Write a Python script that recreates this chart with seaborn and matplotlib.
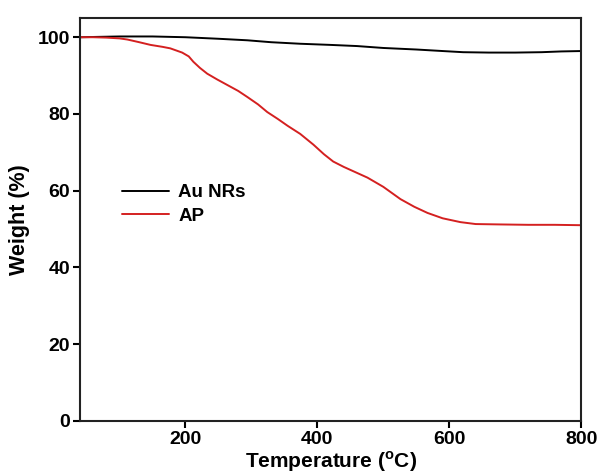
import pandas as pd
import seaborn as sns
import matplotlib.pyplot as plt

# TGA curves
au_temp = [40, 100, 150, 200, 250, 294, 330, 374, 420, 460, 500, 550, 590, 621, 660, 700, 740, 770, 800]
au_weight = [100.0, 100.2, 100.2, 100.0, 99.6, 99.2, 98.7, 98.3, 98.0, 97.7, 97.2, 96.8, 96.4, 96.1, 96.0, 96.0, 96.1, 96.3, 96.4]

ap_temp = [40, 60, 80, 100, 112, 130, 147, 165, 177, 195, 205, 212, 222, 233, 248, 264, 280, 294,
           310, 324, 340, 355, 374, 394, 410, 424, 440, 458, 476, 500, 526, 547, 567, 590, 617,
           640, 677, 720, 760, 800]
ap_weight = [100.0, 100.0, 99.9, 99.7, 99.4, 98.7, 98.0, 97.5, 97.1, 96.0, 95.0, 93.6, 92.0, 90.5,
             89.0, 87.5, 86.0, 84.4, 82.5, 80.5, 78.7, 76.9, 74.8, 72.0, 69.5, 67.6, 66.2, 64.8,
             63.4, 61.0, 57.8, 55.8, 54.2, 52.8, 51.8, 51.3, 51.2, 51.1, 51.1, 51.0]

df = pd.concat([
    pd.DataFrame({'Temperature': au_temp, 'Weight': au_weight, 'Sample': 'Au NRs'}),
    pd.DataFrame({'Temperature': ap_temp, 'Weight': ap_weight, 'Sample': 'AP'}),
])

sns.set_style('ticks')
plt.rcParams['font.family'] = ['Liberation Sans', 'DejaVu Sans']
plt.rcParams['font.weight'] = 'bold'
plt.rcParams['mathtext.fontset'] = 'custom'
plt.rcParams['mathtext.rm'] = 'Liberation Sans:bold'
for k in ['text.color', 'axes.labelcolor', 'xtick.color', 'ytick.color']:
    plt.rcParams[k] = 'black'

fig = plt.figure(figsize=(6.01, 4.75), dpi=100)
ax = fig.add_axes([0.133, 0.114, 0.834, 0.848])

sns.lineplot(data=df, x='Temperature', y='Weight', hue='Sample',
             palette={'Au NRs': 'black', 'AP': '#d42020'}, linewidth=1.4, ax=ax, sort=False)

ax.set_xlim(40, 800)
ax.set_ylim(0, 105)
ax.set_xticks([200, 400, 600, 800])
ax.set_yticks([0, 20, 40, 60, 80, 100])
ax.tick_params(axis='both', labelsize=14, width=1.5, length=5, direction='out', pad=2)
for lab in ax.get_xticklabels() + ax.get_yticklabels():
    lab.set_fontweight('bold')
for s in ax.spines.values():
    s.set_linewidth(1.5)
    s.set_color('#222222')

ax.set_xlabel('Temperature ($^{\\mathregular{o}}$C)', fontsize=15, fontweight='bold', labelpad=1)
ax.set_ylabel('Weight (%)', fontsize=15.5, fontweight='bold', labelpad=6)

leg = ax.legend(loc='upper left', bbox_to_anchor=(0.05, 0.63), frameon=False,
                fontsize=13.5, handlelength=2.5, handletextpad=0.5, labelspacing=0.35)
for t in leg.get_texts():
    t.set_fontweight('bold')

fig.savefig('out.png', dpi=100)
